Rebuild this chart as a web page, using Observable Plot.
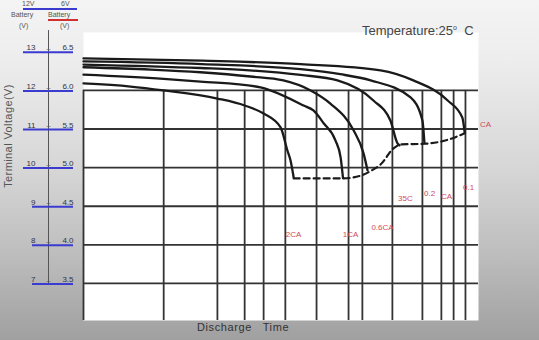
<!DOCTYPE html>
<html>
<head>
<meta charset="utf-8">
<script src="https://cdn.jsdelivr.net/npm/d3@7"></script>
<script src="https://cdn.jsdelivr.net/npm/@observablehq/plot@0.6"></script>
<style>
  html, body { margin: 0; padding: 0; }
  #wrap { position: relative; width: 539px; height: 340px; overflow: hidden;
    background: linear-gradient(to bottom, #f4f4f4 0%, #ededed 18%, #d6d6d6 50%, #bdbdbd 75%, #a0a0a0 100%);
    font-family: "Liberation Sans", Arial, sans-serif; }
  #wrap svg { position: absolute; left: 0; top: 0; background: transparent; z-index: 1; }
  .t { position: absolute; white-space: nowrap; color: #555; z-index: 2; }
  .bar { position: absolute; z-index: 2; }
</style>
</head>
<body>
<div id="wrap">
  <div class="t" style="left:22px;top:0px;font-size:7px;">12V</div>
  <div class="t" style="left:61px;top:0px;font-size:7px;">6V</div>
  <div class="bar" style="left:23px;top:8px;width:54px;height:2px;background:#3b3bd0;"></div>
  <div class="t" style="left:11px;top:11px;font-size:7px;">Battery</div>
  <div class="t" style="left:48px;top:11px;font-size:7px;">Battery</div>
  <div class="bar" style="left:48px;top:19px;width:30px;height:2px;background:#d03030;"></div>
  <div class="t" style="left:19px;top:22px;font-size:7px;">(V)</div>
  <div class="t" style="left:60px;top:22px;font-size:7px;">(V)</div>
  <div class="t" style="left:-53px;top:130px;font-size:11px;letter-spacing:0.4px;transform:rotate(-90deg);width:122px;text-align:center;">Terminal Voltage(V)</div>
  <div class="t" style="left:362px;top:23px;font-size:13px;color:#444;">Temperature:25<sup style="font-size:7px">o</sup>&nbsp; C</div>
  <div class="t" style="left:197px;top:321px;font-size:11px;letter-spacing:0.6px;color:#333;">Discharge&nbsp;&nbsp; Time</div>
</div>
<script>
// Voltage ticks (12V battery) and the matching 6V values
const voltTicks = [7, 8, 9, 10, 11, 12, 13];
const gridVolts = [7, 8, 9, 10, 11, 12];
// Vertical grid positions along discharge time (relative units)
const gridTimes = [0, 20.3, 33.9, 40.8, 45.6, 51.1, 59, 67.1, 70.6, 78.2, 85.8, 90.6, 93.7, 96.7];

// Discharge curves: [time, volts]
const curve2CA = [[0,12.18],[11.9,12.10],[20.3,12.0],[33.9,11.79],[40.8,11.61],[45.6,11.40],[49.9,11.04],[51.6,10.45],[52.4,10.19],[53.2,9.75]];
const curve1CA = [[0,12.41],[20.3,12.30],[29.6,12.23],[44.8,12.08],[47.3,12.0],[55.7,11.61],[58.2,11.48],[60.8,11.15],[63.8,10.70],[65.1,10.26],[65.7,9.73]];
const curve06CA = [[0,12.60],[17,12.54],[29.6,12.47],[42.3,12.36],[50.6,12.26],[57.5,12.0],[62.5,11.66],[68.4,10.96],[70.9,10.37],[71.9,9.93]];
const curveC4 = [[0,12.67],[29.6,12.58],[42,12.52],[55,12.40],[64.3,12.26],[73.4,11.74],[77.7,11.22],[79.5,10.63],[80,10.58]];
const curveC5 = [[0,12.75],[30,12.68],[55,12.55],[65,12.42],[72.7,12.26],[82.8,11.82],[85.8,11.22],[86.3,10.65]];
const curveC6 = [[0,12.83],[30,12.77],[55,12.68],[75.2,12.52],[83.5,12.26],[92.2,11.74],[95.9,11.30],[96.5,10.91]];
const cutoff = [[53.2,9.72],[65.6,9.72],[70.1,9.79],[73,9.93],[75.2,10.08],[78.5,10.5],[80.3,10.6],[86.6,10.62],[92.2,10.72],[96.5,10.89]];

// Curve labels
const labelText = ["2CA", "1CA", "0.6CA", "35C", "0.2", "CA", "0.1", "CA"];
const labelTime = [53.2, 67.6, 75.7, 81.5, 87.6, 91.9, 97.5, 101.8];
const labelVolt = [8.27, 8.27, 8.45, 9.2, 9.33, 9.25, 9.49, 11.12];

const curves = [curve2CA, curve1CA, curve06CA, curveC4, curveC5, curveC6];
const lineData = curves.flatMap((c, i) => c.map(([t, v]) => ({t, v, id: i})));
const cutData = cutoff.map(([t, v]) => ({t, v}));
const labels = labelText.map((s, i) => ({s, t: labelTime[i], v: labelVolt[i]}));
const yDom = [6.04, 13.5];

const chart = Plot.plot({
  width: 539, height: 340,
  marginLeft: 83, marginRight: 61, marginTop: 32, marginBottom: 20,
  style: {background: "transparent", fontFamily: "Liberation Sans, Arial, sans-serif"},
  x: {domain: [0, 100], axis: null},
  y: {domain: yDom, axis: null},
  marks: [
    Plot.frame({fill: "white", stroke: "none"}),
    Plot.ruleY(gridVolts, {stroke: "#333", strokeWidth: 1.8}),
    Plot.ruleX(gridTimes, {y1: 12, y2: yDom[0], stroke: "#333", strokeWidth: 1.8}),
    // custom left scale
    Plot.ruleX([0], {y1: 13.55, y2: 6.95, dx: -35, stroke: "#555", strokeWidth: 1}),
    Plot.axisY({ticks: voltTicks.filter(d => d >= 10), anchor: "left", label: null, tickSize: 50, tickPadding: 0, dx: -10, dy: 0.5, stroke: "#3b3bd0", strokeWidth: 2, strokeOpacity: 1, tickFormat: () => ""}),
    Plot.axisY({ticks: voltTicks.filter(d => d < 10), anchor: "left", label: null, tickSize: 41, tickPadding: 0, dx: -10, dy: 0.5, stroke: "#3b3bd0", strokeWidth: 2, strokeOpacity: 1, tickFormat: () => ""}),
    Plot.axisY({ticks: voltTicks, anchor: "left", label: null, tickSize: 0, tickPadding: 0, dx: -48, dy: -4, textAnchor: "end", fill: "#334", fontSize: 8, tickFormat: d => String(d)}),
    Plot.axisY({ticks: voltTicks, anchor: "left", label: null, tickSize: 0, tickPadding: 0, dx: -10, dy: -4, textAnchor: "end", fill: "#334", fontSize: 8, tickFormat: d => (d / 2).toFixed(1)}),
    Plot.axisY({ticks: voltTicks, anchor: "left", label: null, tickSize: 0, tickPadding: 0, dx: -35, dy: -3, textAnchor: "middle", fill: "#556", fontSize: 7, tickFormat: () => "–"}),
    Plot.line(lineData, {x: "t", y: "v", z: "id", stroke: "#1a1a1a", strokeWidth: 2.3, curve: "monotone-x"}),
    Plot.line(cutData, {x: "t", y: "v", stroke: "#1a1a1a", strokeWidth: 2.2, strokeDasharray: "6,4", curve: "monotone-x"}),
    Plot.text(labels, {x: "t", y: "v", text: "s", fill: "#d04a5a", fontSize: 8})
  ]
});
document.getElementById("wrap").appendChild(chart);
</script>
</body>
</html>
